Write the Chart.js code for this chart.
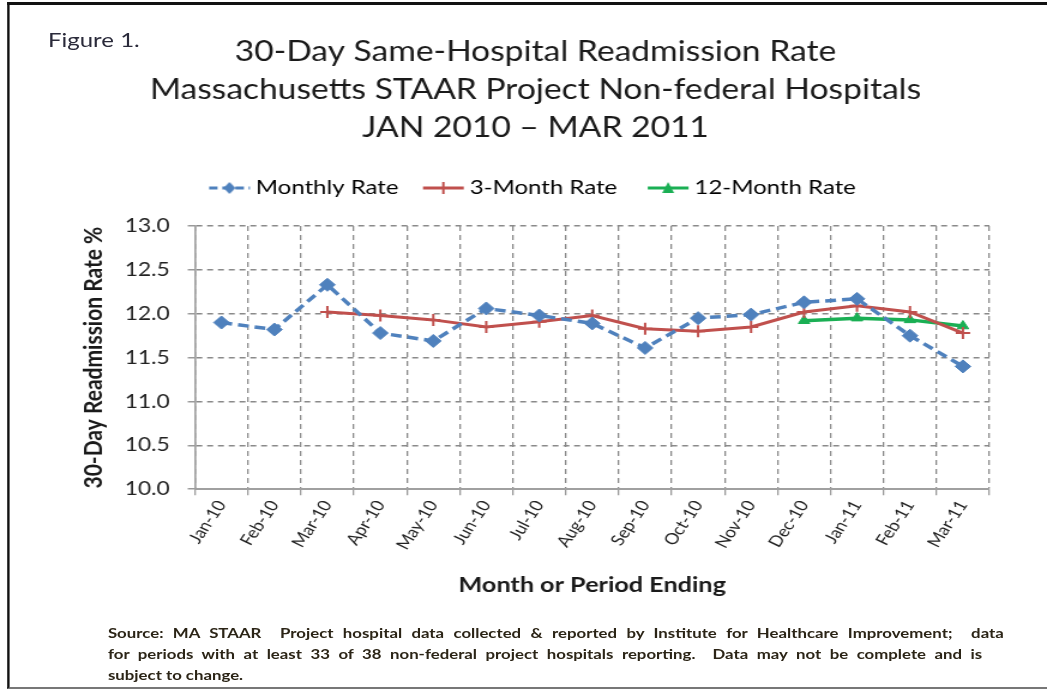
<!DOCTYPE html>
<html>
<head>
<meta charset="utf-8">
<script src="https://cdn.jsdelivr.net/npm/chart.js@4.4.1/dist/chart.umd.min.js"></script>
<style>
  html, body { margin: 0; padding: 0; background: #fff; overflow: hidden; }
  /* the reference picture is stretched sideways, so the whole page is drawn narrower and widened */
  #wrap { position: relative; width: 873px; height: 689px; overflow: hidden; font-family: Lato, sans-serif;
          transform-origin: 0 0; transform: scaleX(1.1993); }
  #c { position: absolute; left: 0; top: 0; }
  #frame { position: absolute; left: 6px; top: 2px; width: 880px; height: 682px;
           border-left: 2px solid #111; border-top: 3px solid #111; border-bottom: 2px solid #777; pointer-events: none; }
  #fig { position: absolute; left: 40px; top: 27px; font-size: 20px; color: #2a2a3a; }
  #note { position: absolute; left: 90px; top: 622px; font-size: 14px; font-weight: bold;
          color: #2b2416; line-height: 21px; }
  #note div { white-space: nowrap; }
  #note .j { text-align: justify; text-align-last: justify; }
</style>
</head>
<body>
<div id="wrap">
  <canvas id="c" width="873" height="689"></canvas>
  <div id="frame"></div>
  <div id="fig">Figure 1.</div>
  <div id="note">
    <div class="j" style="width:747px">Source: MA STAAR&nbsp; Project hospital data collected &amp; reported by Institute for Healthcare Improvement;&nbsp; data</div>
    <div class="j" style="width:729px">for periods with at least 33 of 38 non-federal project hospitals reporting.&nbsp; Data may not be complete and is</div>
    <div>subject to change.</div>
  </div>
</div>
<script>
const FONT = "Lato, sans-serif";

const months = ["Jan-10", "Feb-10", "Mar-10", "Apr-10", "May-10", "Jun-10", "Jul-10", "Aug-10",
                "Sep-10", "Oct-10", "Nov-10", "Dec-10", "Jan-11", "Feb-11", "Mar-11"];
const monthlyRate = [11.90, 11.82, 12.33, 11.78, 11.69, 12.06, 11.98, 11.89,
                     11.61, 11.95, 11.99, 12.13, 12.17, 11.75, 11.40];
const threeMonthRate = [null, null, 12.02, 11.98, 11.93, 11.85, 11.91, 11.98,
                        11.83, 11.80, 11.85, 12.02, 12.09, 12.02, 11.78];
const twelveMonthRate = [null, null, null, null, null, null, null, null,
                         null, null, null, 11.92, 11.95, 11.93, 11.86];
const yTicks = [10.0, 10.5, 11.0, 11.5, 12.0, 12.5, 13.0];

const titleLines = ["30-Day Same-Hospital Readmission Rate",
                    "Massachusetts STAAR Project Non-federal Hospitals",
                    "JAN 2010 \u2013 MAR 2011"];

const BLUE = "#4F81BD", RED = "#C0504D", GREEN = "#1AAF54";
const LEG_SIZE = 20;

// line + marker pictures for the legend, like Excel draws them
function legendIcon(color, kind) {
  const cv = document.createElement("canvas");
  cv.width = 36; cv.height = 16;
  const g = cv.getContext("2d");
  g.strokeStyle = color; g.fillStyle = color; g.lineWidth = 3;
  if (kind === "diamond") g.setLineDash([7, 4]);
  g.beginPath(); g.moveTo(1, 8); g.lineTo(35, 8); g.stroke();
  g.setLineDash([]);
  g.beginPath();
  if (kind === "diamond") {
    g.moveTo(18, 2); g.lineTo(23, 8); g.lineTo(18, 14); g.lineTo(13, 8); g.closePath(); g.fill();
  } else if (kind === "cross") {
    g.lineWidth = 2; g.moveTo(18, 2); g.lineTo(18, 14); g.stroke();
  } else {
    g.moveTo(18, 2); g.lineTo(23, 13); g.lineTo(13, 13); g.closePath(); g.fill();
  }
  return cv;
}
const icons = [legendIcon(BLUE, "diamond"), legendIcon(RED, "cross"), legendIcon(GREEN, "triangle")];

// wider gaps between legend entries, made with trailing spaces
const measure = document.createElement("canvas").getContext("2d");
measure.font = LEG_SIZE + "px " + FONT;
function padText(text, px) {
  const base = measure.measureText(text).width;
  let s = text;
  while (measure.measureText(s).width - base < px) s += " ";
  return s;
}
const legendGaps = [14, 18, 0];

const legendSpace = {
  id: "legendSpace",
  beforeInit(chart) {
    const fit = chart.legend.fit;
    chart.legend.fit = function () { fit.call(this); this.height += 18; };
  },
};

const ctx = document.getElementById("c").getContext("2d");
new Chart(ctx, {
  type: "line",
  data: {
    labels: months,
    datasets: [
      {
        label: "Monthly Rate",
        data: monthlyRate,
        borderColor: BLUE, backgroundColor: BLUE,
        borderWidth: 3.5, borderDash: [9, 5],
        pointStyle: "rectRot", pointRadius: 6.5, pointBorderWidth: 1,
        tension: 0,
      },
      {
        label: "3-Month Rate",
        data: threeMonthRate,
        borderColor: RED, backgroundColor: RED,
        borderWidth: 3,
        pointStyle: "cross", pointRadius: 6, pointBorderWidth: 2,
        tension: 0,
      },
      {
        label: "12-Month Rate",
        data: twelveMonthRate,
        borderColor: GREEN, backgroundColor: GREEN,
        borderWidth: 3.5,
        pointStyle: "triangle", pointRadius: 5.5, pointBorderWidth: 1,
        tension: 0,
      },
    ],
  },
  plugins: [legendSpace],
  options: {
    responsive: false,
    animation: false,
    devicePixelRatio: 1,
    layout: { padding: { top: 33, left: 68, right: 48, bottom: 91 } },
    plugins: {
      title: {
        display: true,
        text: titleLines,
        color: "#1a1a1a",
        font: { family: FONT, size: 28, weight: "normal", lineHeight: 1.357 },
        padding: { top: 0, bottom: 21 },
      },
      legend: {
        position: "top",
        labels: {
          usePointStyle: true,
          pointStyleWidth: 24,
          padding: 10,
          color: "#222",
          font: { family: FONT, size: LEG_SIZE },
          generateLabels: (chart) => chart.data.datasets.map((ds, i) => ({
            text: padText(ds.label, legendGaps[i]), pointStyle: icons[i], datasetIndex: i,
            fillStyle: "transparent", strokeStyle: "transparent", lineWidth: 0, hidden: false,
          })),
        },
      },
      tooltip: { enabled: false },
    },
    scales: {
      x: {
        offset: true,
        afterFit: (scale) => { scale.paddingLeft = 0; scale.paddingRight = 0; },
        grid: { offset: true, color: "#8a8a8a", lineWidth: 1.3, tickLength: 6, tickColor: "#9a9a9a", tickWidth: 1.3 },
        border: { color: "#a0a0a0", width: 2, dash: [5, 4] },
        ticks: { autoSkip: false, maxRotation: 60, minRotation: 60, color: "#222", padding: 2,
                 font: { family: FONT, size: 15.5 } },
        title: { display: true, text: "Month or Period Ending", color: "#1a1a1a",
                 font: { family: FONT, size: 21, weight: "bold" }, padding: { top: 18, bottom: 0 } },
      },
      y: {
        min: 10, max: 13,
        afterBuildTicks: (scale) => { scale.ticks = yTicks.map((v) => ({ value: v })); },
        grid: { color: "#8a8a8a", lineWidth: 1.5, tickLength: 6, tickColor: "#9a9a9a", tickWidth: 1.5 },
        border: { color: "#a0a0a0", width: 1.7, dash: [5, 4] },
        ticks: { color: "#222", padding: 15, font: { family: FONT, size: 19 },
                 callback: (v) => Number(v).toFixed(1) },
        title: { display: true, text: "30-Day Readmission Rate %", color: "#1a1a1a",
                 font: { family: FONT, size: 21, weight: "bold", lineHeight: 1 }, padding: { top: 0, bottom: 0 } },
      },
    },
  },
});
</script>
</body>
</html>
